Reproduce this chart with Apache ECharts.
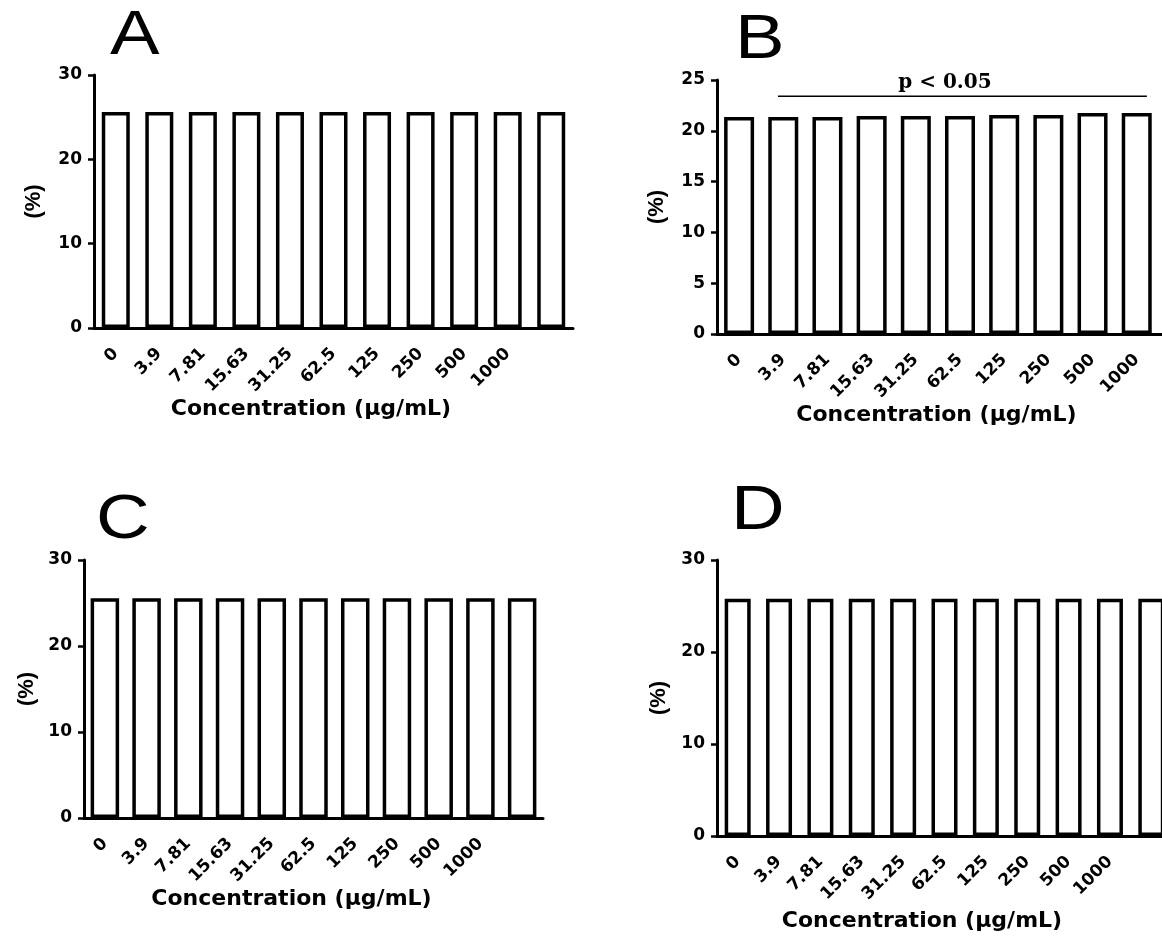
<!DOCTYPE html>
<html>
<head>
<meta charset="utf-8">
<title>Concentration panels</title>
<script src="https://cdn.jsdelivr.net/npm/echarts@6/dist/echarts.min.js"></script>
<style>
  html, body { margin: 0; padding: 0; background: #fff; overflow: hidden; }
  /* wider than the window: the right-hand panels run past the edge, as in the source figure */
  #main { width: 1300px; height: 936px; }
</style>
</head>
<body>
<div id="main"></div>
<script>
// categories (last slot has no label in the original figure)
var concentrations = ['0', '3.9', '7.81', '15.63', '31.25', '62.5', '125', '250', '500', '1000', ''];

// bar heights (%)
var valuesA = [25.6, 25.6, 25.6, 25.6, 25.6, 25.6, 25.6, 25.6, 25.6, 25.6, 25.6];
var valuesB = [21.35, 21.35, 21.35, 21.45, 21.45, 21.45, 21.55, 21.55, 21.75, 21.75, 21.75];
var valuesC = [25.55, 25.55, 25.55, 25.55, 25.55, 25.55, 25.55, 25.55, 25.55, 25.55, 25.55];
var valuesD = [25.8, 25.8, 25.8, 25.8, 25.8, 25.8, 25.8, 25.8, 25.8, 25.8, 25.8];

// y ranges
var yMaxA = 30, yStepA = 10;
var yMaxB = 25, yStepB = 5;

// significance bar over panel B (x in category-index units)
var sigLabel = 'p < 0.05';
var sigLine = [[0.88, 23.4], [9.23, 23.4]];
var sigText = [[4.66, 23.4]];

var myChart = echarts.init(document.getElementById('main'));

var labelFont = 'DejaVu Sans';

function xAxisFor(grid, gap, shift) {
    return {
        type: 'category',
        gridIndex: grid,
        data: concentrations,
        name: 'Concentration (μg/mL)',
        nameLocation: 'middle',
        nameGap: gap,
        nameTextStyle: {
            fontFamily: labelFont, fontWeight: 'bold', fontSize: 22, color: '#000',
            padding: [0, shift, 0, 0]
        },
        axisLine: { lineStyle: { color: '#000', width: 3 } },
        axisTick: { alignWithLabel: true, length: 7, lineStyle: { color: '#000', width: 2.5 } },
        axisLabel: {
            rotate: 45, interval: 0, margin: 23,
            fontFamily: labelFont, fontWeight: 'bold', fontSize: 17, color: '#000'
        }
    };
}

function yAxisFor(grid, max, step, gap) {
    return {
        type: 'value',
        gridIndex: grid,
        min: 0, max: max, interval: step,
        name: '(%)',
        nameLocation: 'middle',
        nameRotate: 90,
        nameGap: gap,
        nameTextStyle: { fontFamily: 'Liberation Sans', fontWeight: 'bold', fontSize: 22, color: '#000' },
        splitLine: { show: false },
        axisLine: { show: true, onZero: false, lineStyle: { color: '#000', width: 3 } },
        axisTick: { show: true, length: 6, lineStyle: { color: '#000', width: 2.5 } },
        axisLabel: { margin: 12, fontFamily: labelFont, fontWeight: 'bold', fontSize: 17, color: '#000' }
    };
}

function barsFor(idx, data, width) {
    return {
        type: 'bar',
        xAxisIndex: idx, yAxisIndex: idx,
        data: data,
        barWidth: width,
        itemStyle: { color: '#fff', borderColor: '#000', borderWidth: 3.5 },
        silent: true
    };
}

function letter(txt, x, y) {
    return {
        type: 'text', left: x, top: y, scaleX: 1.18,
        style: { text: txt, fontFamily: 'Liberation Sans', fontSize: 63, fill: '#000' }
    };
}

var xAxes = [
    xAxisFor(0, 60, 45),
    xAxisFor(1, 62, 47),
    xAxisFor(2, 64, 44),
    xAxisFor(3, 74, 45)
];
// hidden value axis over panel B for the significance bar
xAxes.push({ type: 'value', gridIndex: 1, min: -0.5, max: 10.5, show: false });

option = {
    animation: false,
    backgroundColor: '#fff',
    grid: [
        { left: 94, top: 75, width: 479, height: 253 },
        { left: 717, top: 80, width: 486, height: 254 },
        { left: 84, top: 560, width: 459, height: 258 },
        { left: 717, top: 560, width: 455, height: 276 }
    ],
    xAxis: xAxes,
    yAxis: [
        yAxisFor(0, yMaxA, yStepA, 49),
        yAxisFor(1, yMaxB, yStepB, 49),
        yAxisFor(2, yMaxA, yStepA, 46),
        yAxisFor(3, yMaxA, yStepA, 47)
    ],
    series: [
        barsFor(0, valuesA, 28),
        barsFor(1, valuesB, 30),
        barsFor(2, valuesC, 28.5),
        barsFor(3, valuesD, 26),
        {
            type: 'line', xAxisIndex: 4, yAxisIndex: 1,
            data: sigLine, symbol: 'none', silent: true,
            lineStyle: { color: '#000', width: 1.5, opacity: 1 }
        },
        {
            type: 'scatter', xAxisIndex: 4, yAxisIndex: 1,
            data: sigText, symbolSize: 0, silent: true,
            itemStyle: { opacity: 1 },
            label: {
                show: true, position: 'top', distance: 3, formatter: sigLabel,
                fontFamily: 'DejaVu Serif', fontWeight: 'bold', fontSize: 20,
                color: '#000', opacity: 1
            }
        }
    ],
    graphic: [
        letter('A', 110, 5),
        letter('B', 735, 9),
        letter('C', 96, 489),
        letter('D', 731, 480)
    ]
};

myChart.setOption(option);
</script>
</body>
</html>
